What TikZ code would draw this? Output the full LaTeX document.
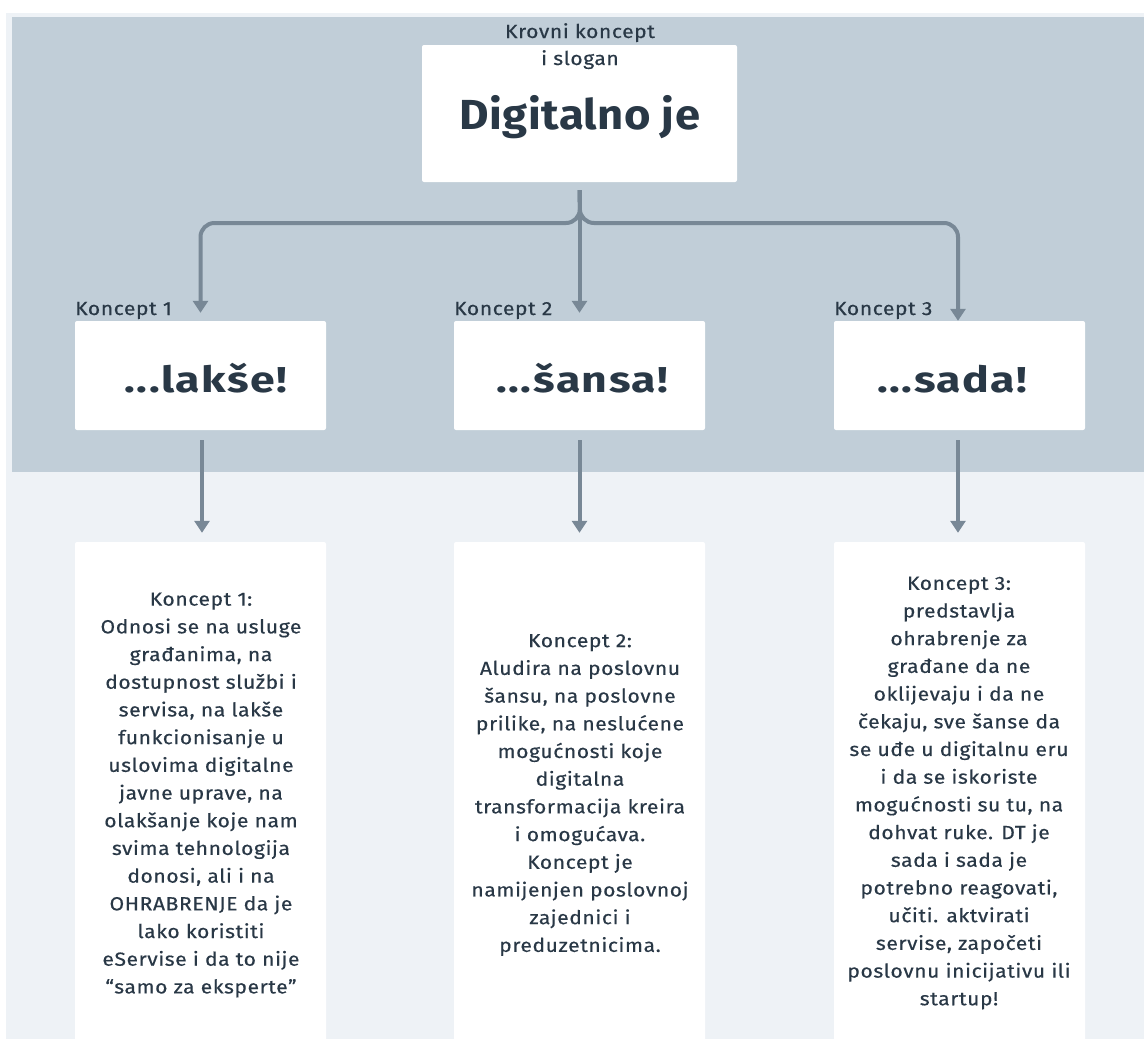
\documentclass[tikz,border=0pt]{standalone}
\usepackage{fontspec}
\setmainfont{Fira Sans}[FakeStretch=1.11, LetterSpace=3, FakeBold=0.4]
\newfontfamily\digfont{Fira Sans}[FakeStretch=1.08, LetterSpace=1]
\newfontfamily\conceptfont{Fira Sans}[FakeStretch=1.24, LetterSpace=4]
\usetikzlibrary{arrows.meta}
\definecolor{txt}{RGB}{41,56,70}
\definecolor{bluebg}{RGB}{193,206,216}
\definecolor{lightbg}{RGB}{238,242,246}
\definecolor{conncol}{RGB}{120,136,150}
\tikzset{
  whitebox/.style={draw=none, fill=white, rounded corners=2pt, inner sep=0pt},
  conn/.style={draw=conncol, line width=4pt, -{Triangle[width=15pt,length=12pt]}},
  lbl/.style={text=txt, font=\fontsize{19}{22}\selectfont, inner sep=0pt},
  digstyle/.style={text=txt, font=\digfont\fontsize{42}{48}\selectfont\bfseries, inner sep=0pt, anchor=base},
  headstyle/.style={text=txt, font=\conceptfont\fontsize{36}{42}\selectfont\bfseries, inner sep=0pt, anchor=base},
  body/.style={text=txt, align=center, inner sep=0pt, font=\fontsize{19}{27.7}\selectfont},
}
\begin{document}
\begin{tikzpicture}[x=1pt,y=-1pt]
\useasboundingbox (0,0) rectangle (1144,1039);
\fill[white] (0,0) rectangle (1144,1039);
\fill[lightbg] (6,13) rectangle (1144,1039);
\fill[bluebg] (12,17) rectangle (1144,472);

% top box
\node[whitebox, minimum width=315pt, minimum height=137pt] (top) at (579.5,113.5) {};
\node[lbl, anchor=base] (krovni) at (580,38) {Krovni koncept};
\node[lbl, anchor=base] (slogan) at (580,65) {i slogan};
\node[digstyle] (dig) at (580,129) {Digitalno je};

% concept boxes
\node[whitebox, minimum width=251pt, minimum height=109pt] (c1) at (200.5,375.5) {};
\node[whitebox, minimum width=251pt, minimum height=109pt] (c2) at (579.5,375.5) {};
\node[whitebox, minimum width=251pt, minimum height=109pt] (c3) at (959.5,375.5) {};
\node[headstyle] (c1t) at (206,392) {...lakše!};
\node[headstyle] (c2t) at (582.5,392) {...šansa!};
\node[headstyle] (c3t) at (952.5,392) {...sada!};

\node[lbl, anchor=base west] (k1) at (75,315) {Koncept 1};
\node[lbl, anchor=base west] (k2) at (454,315) {Koncept 2};
\node[lbl, anchor=base west] (k3) at (834,315) {Koncept 3};

% description boxes
\node[whitebox, minimum width=251pt, minimum height=499pt] (d1) at (200.5,791.5) {};
\node[whitebox, minimum width=251pt, minimum height=499pt] (d2) at (579.5,791.5) {};
\node[whitebox, minimum width=251pt, minimum height=499pt] (d3) at (959.5,791.5) {};

\node[body] (d1t) at (201,795) {Koncept 1:\\Odnosi se na usluge\\građanima, na\\dostupnost službi i\\servisa, na lakše\\funkcionisanje u\\uslovima digitalne\\javne uprave, na\\olakšanje koje nam\\svima tehnologija\\donosi, ali i na\\OHRABRENJE da je\\lako koristiti\\eServise i da to nije\\“samo za eksperte”};
\node[body] (d2t) at (580,795) {Koncept 2:\\Aludira na poslovnu\\šansu, na poslovne\\prilike, na neslućene\\mogućnosti koje\\digitalna\\transformacija kreira\\i omogućava.\\Koncept je\\namijenjen poslovnoj\\zajednici i\\preduzetnicima.};
\node[body] (d3t) at (959,793) {Koncept 3:\\predstavlja\\ohrabrenje za\\građane da ne\\oklijevaju i da ne\\čekaju, sve šanse da\\se uđe u digitalnu eru\\i da se iskoriste\\mogućnosti su tu, na\\dohvat ruke. DT je\\sada i sada je\\potrebno reagovati,\\učiti. aktvirati\\servise, započeti\\poslovnu inicijativu ili\\startup!};

% connectors
\coordinate (split) at (580,223);
\draw[conn, shorten <=8pt, shorten >=8pt] (top.south) -- (c2.north);
\draw[conn, rounded corners=14pt, shorten <=8pt, shorten >=8pt] (top.south) -- (split) -| (c1.north);
\draw[conn, rounded corners=14pt, shorten <=8pt] (top.south) -- (split) -| ([xshift=-1.5pt]c3.north);

\draw[conn, shorten <=10pt, shorten >=9pt] ([xshift=1.5pt]c1.south) -- ([xshift=1.5pt]d1.north);
\draw[conn, shorten <=10pt, shorten >=9pt] (c2.south) -- (d2.north);
\draw[conn, shorten <=10pt, shorten >=9pt] ([xshift=-1.5pt]c3.south) -- ([xshift=-1.5pt]d3.north);
\end{tikzpicture}
\end{document}
